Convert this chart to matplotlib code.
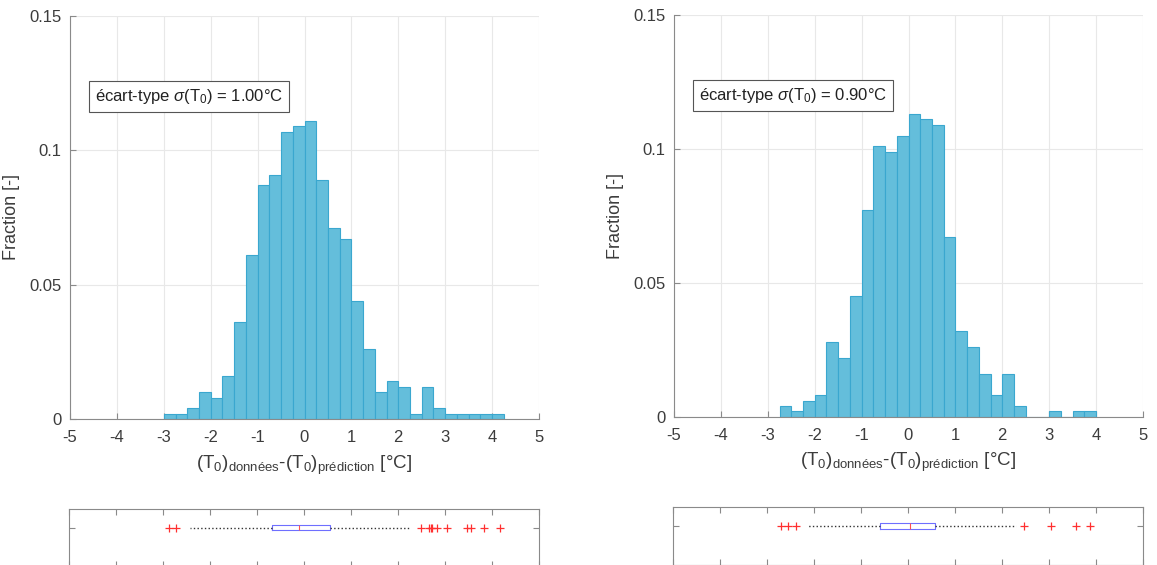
import numpy as np
import matplotlib
matplotlib.use("Agg")
import matplotlib.pyplot as plt

plt.rcParams['font.family'] = ['Liberation Sans', 'DejaVu Sans']
plt.rcParams['mathtext.fontset'] = 'custom'
plt.rcParams['mathtext.rm'] = 'Liberation Sans'
plt.rcParams['mathtext.it'] = 'Liberation Sans:italic'

# histogram data: fraction per 0.25 °C bin
bin_w = 0.25
left_start = -3.0
left_frac = [0.002, 0.002, 0.004, 0.010, 0.008, 0.016, 0.036, 0.061, 0.087, 0.091,
             0.107, 0.109, 0.111, 0.089, 0.071, 0.067, 0.044, 0.026, 0.010, 0.014,
             0.012, 0.002, 0.012, 0.004, 0.002, 0.002, 0.002, 0.002, 0.002]
right_start = -2.75
right_frac = [0.004, 0.002, 0.006, 0.008, 0.028, 0.022, 0.045, 0.077, 0.101, 0.099,
              0.105, 0.113, 0.111, 0.109, 0.067, 0.032, 0.026, 0.016, 0.008, 0.016,
              0.004, 0.0, 0.0, 0.002, 0.0, 0.002, 0.002]

left_std = 1.00
right_std = 0.90

# boxplot summaries
left_box = dict(med=-0.10, q1=-0.69, q3=0.54, whislo=-2.42, whishi=2.25,
                fliers=[-2.88, -2.73, 2.48, 2.66, 2.70, 2.73, 2.82, 3.04, 3.47, 3.56, 3.82, 4.17])
right_box = dict(med=0.03, q1=-0.61, q3=0.57, whislo=-2.13, whishi=2.29,
                 fliers=[-2.71, -2.56, -2.39, 2.46, 3.03, 3.57, 3.87])

xticks = [-5, -4, -3, -2, -1, 0, 1, 2, 3, 4, 5]
yticks = [0, 0.05, 0.1, 0.15]
ytick_labels = ['0', '0.05', '0.1', '0.15']

W, H = 1157, 565
fig = plt.figure(figsize=(W / 100, H / 100), dpi=100)

face = '#64bedb'
edge = '#3aa7cf'
axcol = '#8a8a8a'
txtcol = '#3c3c3c'


def px(x0, y0, x1, y1):
    return [x0 / W, 1 - y1 / H, (x1 - x0) / W, (y1 - y0) / H]


def hist_panel(rect, start, frac, std):
    ax = fig.add_axes(rect)
    edges = start + bin_w * np.arange(len(frac))
    ax.bar(edges, frac, width=bin_w, align='edge', color=face, edgecolor=edge,
           linewidth=0.8, zorder=2)
    ax.set_xlim(-5, 5)
    ax.set_ylim(0, 0.15)
    ax.set_xticks(xticks)
    ax.set_xticklabels([str(t) for t in xticks])
    ax.set_yticks(yticks)
    ax.set_yticklabels(ytick_labels)
    ax.grid(True, color='#e8e8e8', linewidth=0.8, zorder=0)
    ax.set_axisbelow(True)
    for s in ['top', 'right']:
        ax.spines[s].set_visible(False)
    for s in ['left', 'bottom']:
        ax.spines[s].set_color(axcol)
    ax.tick_params(direction='in', length=4, color=axcol, labelsize=12,
                   labelcolor=txtcol)
    ax.tick_params(axis='x', pad=8)
    ax.tick_params(axis='y', pad=6)
    ax.set_ylabel('Fraction [-]', fontsize=13, color=txtcol, labelpad=7)
    ax.set_xlabel(r'$(\mathrm{T}_0)_{\mathrm{données}}$-$(\mathrm{T}_0)_{\mathrm{prédiction}}$ [°C]',
                  fontsize=13.5, color=txtcol, labelpad=6)
    ax.text(-4.47, 0.12, r'écart-type $\sigma$(T$_0$) = %.2f°C' % std, fontsize=12,
            color='#222222', va='center', ha='left', zorder=5,
            bbox=dict(boxstyle='square,pad=0.35', fc='white', ec='#555555', lw=0.8))
    return ax


def box_panel(rect, st):
    ax = fig.add_axes(rect)
    ax.bxp([dict(st, label='')], vert=False, positions=[1], widths=0.14,
           showfliers=True, showcaps=False,
           boxprops=dict(color='#6f6fff', linewidth=0.8),
           medianprops=dict(color='#ff5050', linewidth=0.8),
           whiskerprops=dict(color='#333333', linestyle=':', linewidth=1.0),
           flierprops=dict(marker='+', markeredgecolor='#ff3030', markersize=6,
                           markeredgewidth=0.9, linestyle='none'))
    ax.set_xlim(-5, 5)
    ax.set_ylim(-0.014, 1.486)
    ax.set_xticks(xticks)
    ax.set_yticks([1])
    ax.set_xticklabels([])
    ax.set_yticklabels([])
    for s in ax.spines.values():
        s.set_color(axcol)
    ax.tick_params(direction='in', length=4, color=axcol, top=True, right=True)
    return ax


hist_panel(px(70, 16, 539, 419), left_start, left_frac, left_std)
hist_panel(px(674, 15, 1143, 416.7), right_start, right_frac, right_std)
box_panel(px(69.3, 509, 539, 566.7), left_box)
box_panel(px(673.3, 507.3, 1143.3, 565), right_box)

fig.savefig('out.png', dpi=100)
